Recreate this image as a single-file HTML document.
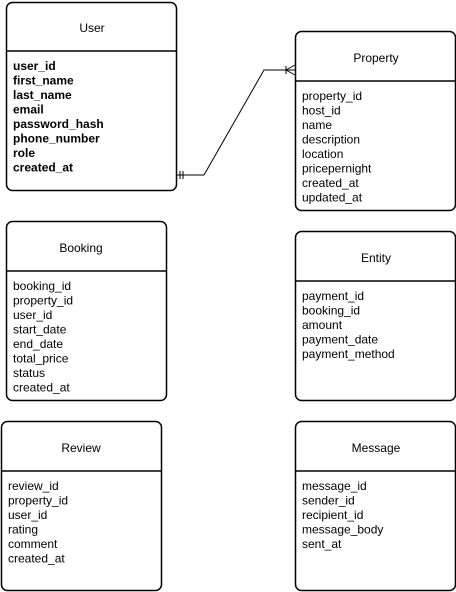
<!DOCTYPE html>
<html><head><style>body{margin:0;background:#fff}svg{display:block}text{font-family:"Liberation Sans",Arial,sans-serif;font-size:12px;fill:#000}</style></head><body>
<svg width="456" height="592" xmlns="http://www.w3.org/2000/svg">
<g fill="none" stroke="#000" stroke-width="1.5">
<rect x="6.5" y="2.5" width="170" height="188" rx="6"/><line x1="6.5" y1="51" x2="176.5" y2="51"/>
<rect x="295.5" y="31.5" width="160" height="179" rx="6"/><line x1="295.5" y1="81" x2="455.5" y2="81"/>
<rect x="6.5" y="221.5" width="160" height="179" rx="6"/><line x1="6.5" y1="271" x2="166.5" y2="271"/>
<rect x="295.5" y="231.5" width="160" height="169" rx="6"/><line x1="295.5" y1="281" x2="455.5" y2="281"/>
<rect x="1.5" y="421.5" width="160" height="169" rx="6"/><line x1="1.5" y1="471" x2="161.5" y2="471"/>
<rect x="295.5" y="421.5" width="160" height="169" rx="6"/><line x1="295.5" y1="471" x2="455.5" y2="471"/>
</g>
<g fill="none" stroke="#000" stroke-width="1">
<polyline points="177,175 204,175 264,70 295,70"/>
<line x1="180" y1="171" x2="180" y2="179"/><line x1="183" y1="171" x2="183" y2="179"/>
<line x1="286" y1="66" x2="286" y2="74"/><line x1="286" y1="70" x2="295" y2="65"/><line x1="286" y1="70" x2="295" y2="75"/>
</g>
<g text-anchor="middle" style="font-size:14px">
<text x="92" y="32">User</text><text x="376" y="62">Property</text><text x="81" y="252">Booking</text>
<text x="376" y="262">Entity</text><text x="81" y="452">Review</text><text x="376" y="452">Message</text>
</g>
<g font-weight="bold">
<text x="13" y="70">user_id</text><text x="13" y="84.5">first_name</text><text x="13" y="99">last_name</text><text x="13" y="113.5">email</text><text x="13" y="128">password_hash</text><text x="13" y="142.5">phone_number</text><text x="13" y="157">role</text><text x="13" y="171.5">created_at</text>
</g>
<g>
<text x="302" y="100">property_id</text><text x="302" y="114.5">host_id</text><text x="302" y="129">name</text><text x="302" y="143.5">description</text><text x="302" y="158">location</text><text x="302" y="172.5">pricepernight</text><text x="302" y="187">created_at</text><text x="302" y="201.5">updated_at</text>
<text x="13" y="290">booking_id</text><text x="13" y="304.5">property_id</text><text x="13" y="319">user_id</text><text x="13" y="333.5">start_date</text><text x="13" y="348">end_date</text><text x="13" y="362.5">total_price</text><text x="13" y="377">status</text><text x="13" y="391.5">created_at</text>
<text x="302" y="300">payment_id</text><text x="302" y="314.5">booking_id</text><text x="302" y="329">amount</text><text x="302" y="343.5">payment_date</text><text x="302" y="358">payment_method</text>
<text x="8" y="490">review_id</text><text x="8" y="504.5">property_id</text><text x="8" y="519">user_id</text><text x="8" y="533.5">rating</text><text x="8" y="548">comment</text><text x="8" y="562.5">created_at</text>
<text x="302" y="490">message_id</text><text x="302" y="504.5">sender_id</text><text x="302" y="519">recipient_id</text><text x="302" y="533.5">message_body</text><text x="302" y="548">sent_at</text>
</g>
</svg></body></html>
